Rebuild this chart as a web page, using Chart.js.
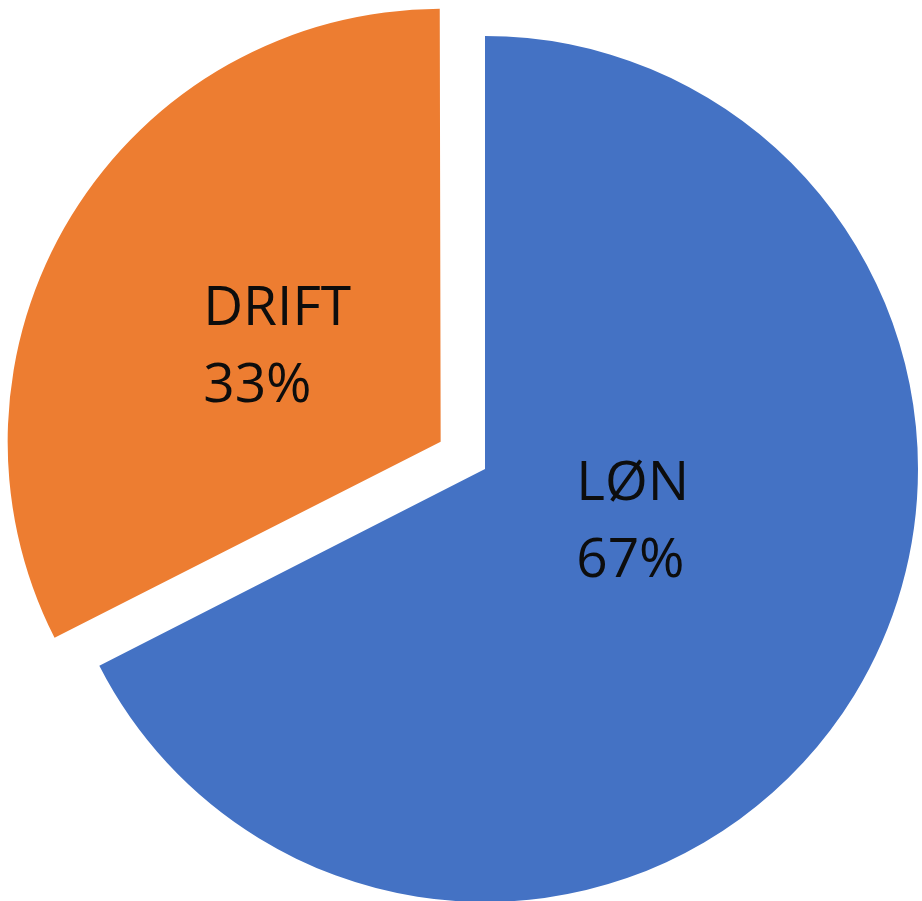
<!DOCTYPE html>
<html>
<head>
<meta charset="utf-8">
<script src="https://cdn.jsdelivr.net/npm/chart.js@4"></script>
<style>
  html, body { margin: 0; padding: 0; background: #fff; }
  #wrap { width: 922px; height: 901px; }
</style>
</head>
<body>
<div id="wrap"><canvas id="pieChart"></canvas></div>
<script>
// Chart data
const categories = ['LØN', 'DRIFT'];
const values = [67.49, 32.51];
const colors = ['#4472C4', '#ED7D31'];

// Chart.js grows an offset arc's radius a little when drawing it; undo that
// so the exploded slice keeps the same radius as the other one
const keepRadius = {
    id: 'keepRadius',
    afterDatasetUpdate(chart, args) {
        const meta = args.meta;
        const base = meta.controller.outerRadius;
        meta.data.forEach(arc => {
            const off = (arc.options.offset || 0) / 4;
            const fix = 1 - Math.sin(Math.min(Math.PI, arc.circumference || 0));
            arc.outerRadius = base - off * fix;
        });
    }
};

// Data labels drawn inside each slice (category + percentage, left aligned block)
const sliceLabels = {
    id: 'sliceLabels',
    afterDatasetsDraw(chart, args, opts) {
        const ctx = chart.ctx;
        const meta = chart.getDatasetMeta(0);
        const total = values.reduce((a, b) => a + b, 0);
        const radius = meta.controller.outerRadius;
        ctx.save();
        ctx.font = opts.font;
        ctx.fillStyle = opts.color;
        ctx.textAlign = 'left';
        ctx.textBaseline = 'alphabetic';
        meta.data.forEach((arc, i) => {
            const p = arc.getProps(['x', 'y', 'startAngle', 'endAngle'], true);
            const place = opts.placement[i];
            const mid = (p.startAngle + p.endAngle) / 2;
            // arcs are translated by offset / 4 along their mid angle when drawn
            const shiftPx = (arc.options.offset || 0) / 4;
            const ox = p.x + Math.cos(mid) * shiftPx;
            const oy = p.y + Math.sin(mid) * shiftPx;
            const angle = mid + place.shift * Math.PI / 180;
            const dist = radius * place.dist;
            const cx = ox + Math.cos(angle) * dist;
            const cy = oy + Math.sin(angle) * dist;
            const lines = [categories[i], Math.round(values[i] / total * 100) + '%'];
            const w = Math.max(...lines.map(t => ctx.measureText(t).width));
            const left = cx - w / 2;
            const base1 = cy - opts.lineHeight / 2 + opts.capHeight / 2;
            lines.forEach((t, j) => ctx.fillText(t, left, base1 + j * opts.lineHeight));
        });
        ctx.restore();
    }
};

const ctx = document.getElementById('pieChart').getContext('2d');
new Chart(ctx, {
    type: 'pie',
    data: {
        labels: categories,
        datasets: [{
            data: values,
            backgroundColor: colors,
            borderWidth: 0,
            offset: [0, 208],
            radius: 433
        }]
    },
    options: {
        responsive: true,
        maintainAspectRatio: false,
        animation: false,
        layout: {
            padding: { left: 48, top: 37, right: 0, bottom: 0 }
        },
        plugins: {
            legend: { display: false },
            tooltip: { enabled: false },
            sliceLabels: {
                font: '55px "Open Sans"',
                color: '#0d0d0d',
                lineHeight: 77,
                capHeight: 39,
                placement: [
                    { shift: -12.8, dist: 0.36 },
                    { shift: -0.6, dist: 0.44 }
                ]
            }
        }
    },
    plugins: [keepRadius, sliceLabels]
});
</script>
</body>
</html>
